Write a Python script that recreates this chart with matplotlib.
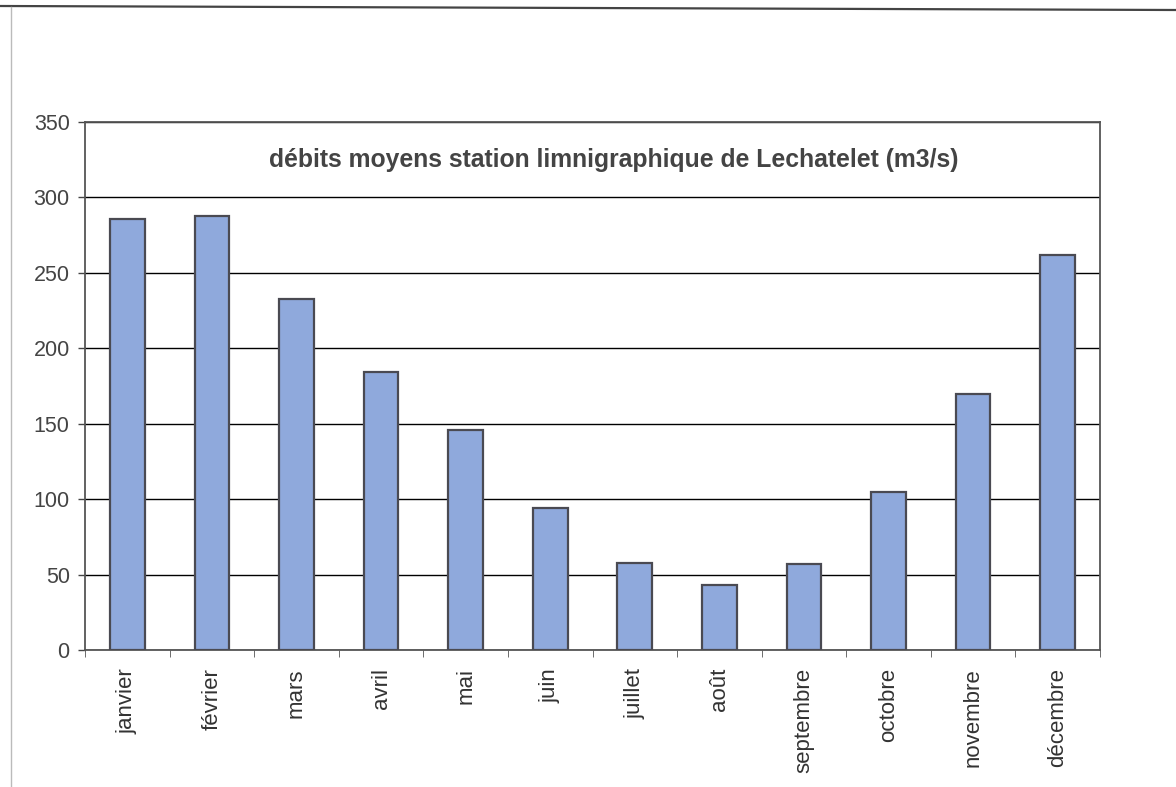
import matplotlib
matplotlib.use("Agg")
import matplotlib.pyplot as plt
from matplotlib.lines import Line2D

mois = ["janvier", "février", "mars", "avril", "mai", "juin", "juillet",
        "août", "septembre", "octobre", "novembre", "décembre"]
debits = [286, 288, 233, 184, 146, 94, 58, 43, 57, 105, 170, 262]
y_ticks = [0, 50, 100, 150, 200, 250, 300, 350]
titre = "débits moyens station limnigraphique de Lechatelet (m3/s)"

plt.rcParams['font.family'] = ['Liberation Sans', 'DejaVu Sans']

fig = plt.figure(figsize=(11.76, 7.87), dpi=100)
ax = fig.add_axes([0.0723, 0.174, 0.8631, 0.671])

x = list(range(len(mois)))
ax.bar(x, debits, width=0.41, color='#8fa9dc', edgecolor='#4a4a52',
       linewidth=1.6, zorder=3)

ax.set_xlim(-0.5, len(mois) - 0.5)
ax.set_ylim(0, 350)
ax.set_yticks(y_ticks)
ax.set_yticklabels([str(v) for v in y_ticks])
ax.yaxis.grid(True, color='black', linewidth=1.0, zorder=1)
ax.set_axisbelow(True)

# labels at bar centres, tick marks at category boundaries
ax.set_xticks(x)
ax.set_xticklabels(mois, rotation=90)
ax.set_xticks([i + 0.5 for i in range(-1, len(mois))], minor=True)
ax.tick_params(axis='x', which='major', length=0, pad=13,
               labelsize=16, labelcolor='#333333')
ax.tick_params(axis='x', which='minor', length=5, color='#555555', direction='out')
ax.tick_params(axis='y', length=5, width=1, color='#444444', pad=6,
               labelsize=15.5, labelcolor='#444444')

for s in ax.spines.values():
    s.set_color('#555555')
    s.set_linewidth(1.3)

ax.text(0.521, 0.928, titre, transform=ax.transAxes, ha='center', va='center',
        fontsize=17.8, fontweight='bold', color='#444444')

# scanned page border
fig.add_artist(Line2D([0.0, 1.0], [1 - 6 / 787, 1 - 10 / 787],
                      transform=fig.transFigure, color='#444444', linewidth=1.6))
fig.add_artist(Line2D([11 / 1176, 11 / 1176], [0.0, 1 - 7 / 787],
                      transform=fig.transFigure, color='#bbbbbb', linewidth=1.0))

fig.savefig("out.png", dpi=100)
